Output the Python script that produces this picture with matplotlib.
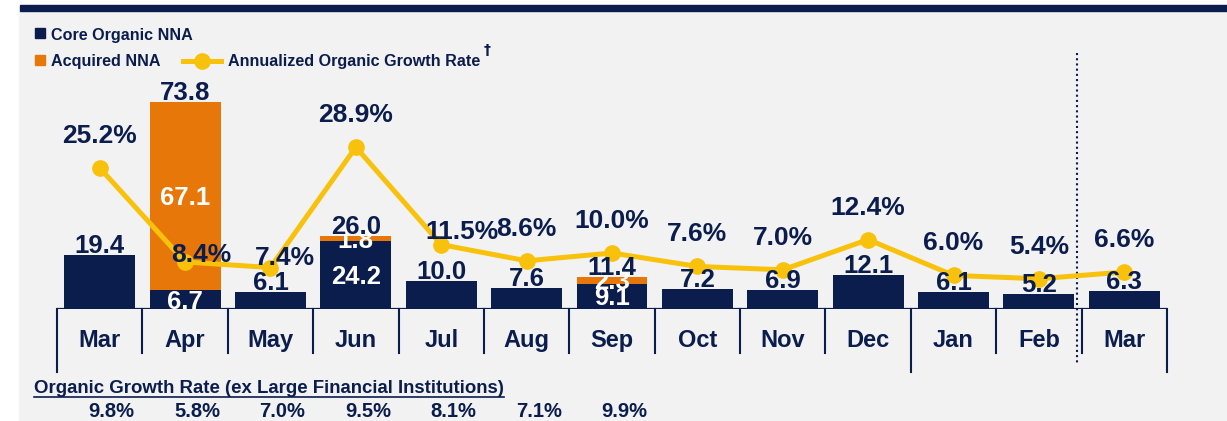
import numpy as np
import matplotlib
matplotlib.use('Agg')
import matplotlib.pyplot as plt
from matplotlib.patches import Rectangle
from matplotlib.lines import Line2D

# data
months = ['Mar', 'Apr', 'May', 'Jun', 'Jul', 'Aug', 'Sep', 'Oct', 'Nov', 'Dec', 'Jan', 'Feb', 'Mar']
core_nna = [19.4, 6.7, 6.1, 24.2, 10.0, 7.6, 9.1, 7.2, 6.9, 12.1, 6.1, 5.2, 6.3]
acquired_nna = [0, 67.1, 0, 1.8, 0, 0, 2.3, 0, 0, 0, 0, 0, 0]
growth_rate = [25.2, 8.4, 7.4, 28.9, 11.5, 8.6, 10.0, 7.6, 7.0, 12.4, 6.0, 5.4, 6.6]
ex_lfi_rate = [9.8, 5.8, 7.0, 9.5, 8.1, 7.1, 9.9]

# label nudges (pixels) for the growth-rate labels that dodge the line
pct_offsets = {1: (16, 0), 2: (14, 3), 4: (21, 6)}

NAVY = '#0b1d4d'
ORANGE = '#e8770a'
GOLD = '#f8c20c'
BG = '#f2f2f2'

W, H = 1227, 421
plt.rcParams['font.family'] = ['Liberation Sans', 'DejaVu Sans']
plt.rcParams['font.weight'] = 'bold'


def fx(x):
    return x / W


def fy(y):
    return 1 - y / H


fig = plt.figure(figsize=(W / 100, H / 100), dpi=100, facecolor='white')
fig.patches.append(Rectangle((fx(19), 0), 1 - fx(19), fy(11), transform=fig.transFigure,
                             color=BG, zorder=-10))
fig.patches.append(Rectangle((fx(20), fy(11)), 1 - fx(20), 6 / H, transform=fig.transFigure,
                             color=NAVY, zorder=-5))

ax = fig.add_axes([fx(57), fy(309), (1167 - 57) / W, (309 - 20) / H])
ax2 = ax.twinx()
for a in (ax, ax2):
    a.set_facecolor('none')
    for s in a.spines.values():
        s.set_visible(False)
    a.set_xticks([])
    a.set_yticks([])

x = np.arange(len(months))
core = np.array(core_nna)
acq = np.array(acquired_nna)
total = core + acq

ax.bar(x, core, width=0.83, color=NAVY, zorder=2)
ax.bar(x[acq > 0], acq[acq > 0], bottom=core[acq > 0], width=0.83, color=ORANGE, zorder=2)
ax.set_xlim(-0.5, len(months) - 0.5)
ax.set_ylim(0, 289 / 2.8)
ax2.set_ylim(0, 289 / 5.6)

ax.axhline(0, color=NAVY, lw=1.6, zorder=3)

# separators under the axis
xt = ax.get_xaxis_transform()
for i in range(len(months) + 1):
    depth = -63 / 289 if i in (0, 10, len(months)) else -44 / 289
    ax.plot([i - 0.5, i - 0.5], [0, depth], color=NAVY, lw=1.5, transform=xt, clip_on=False)
ax.plot([11.45, 11.45], [(309 - 53) / 289, -56 / 289], color=NAVY, lw=1.5,
        dashes=(1, 1.5), transform=xt, clip_on=False)

# growth rate line
ax2.plot(x, growth_rate, color=GOLD, lw=3.6, marker='o', ms=11, zorder=3)

# bar labels
lab = dict(fontsize=18.5, fontweight='bold', ha='center', va='baseline',
           textcoords='offset pixels', xycoords=ax.transData, zorder=5)
for i in range(len(months)):
    if acq[i] > 0:
        ax2.annotate(f'{core[i]:.1f}', xy=(i, core[i] / 2), xytext=(0, -9), color='white', **lab)
        ax2.annotate(f'{acq[i]:.1f}', xy=(i, core[i] + acq[i] / 2), xytext=(0, -9),
                     color='white', **lab)
    ax2.annotate(f'{total[i]:.1f}', xy=(i, total[i]), xytext=(0, 2), color=NAVY, **lab)

for i, v in enumerate(growth_rate):
    dx, dy = pct_offsets.get(i, (0, 25))
    ax2.annotate(f'{v:.1f}%', xy=(i, v), xytext=(dx, dy), textcoords='offset pixels',
                 ha='center', va='baseline', fontsize=19, color=NAVY, zorder=5)

for i, m in enumerate(months):
    ax2.annotate(m, xy=(i, 0), xycoords=ax.transData, xytext=(0, -38),
                 textcoords='offset pixels', ha='center', va='baseline',
                 fontsize=17, color=NAVY)

# ex LFI row
head = fig.text(fx(34), fy(393), 'Organic Growth Rate (ex Large Financial Institutions)',
                fontsize=13.4, color=NAVY, va='baseline', ha='left')
for i, v in enumerate(ex_lfi_rate):
    ax2.annotate(f'{v:.1f}%', xy=(i + 0.14, 0), xycoords=ax.transData, xytext=(0, -108),
                 textcoords='offset pixels', ha='center', va='baseline',
                 fontsize=14.5, color=NAVY)

# legend
fig.patches.append(Rectangle((fx(35), fy(38)), 10 / W, 10 / H, transform=fig.transFigure,
                             color=NAVY))
fig.patches.append(Rectangle((fx(35), fy(65)), 10 / W, 10 / H, transform=fig.transFigure,
                             color=ORANGE))
fig.text(fx(51), fy(40), 'Core Organic NNA', fontsize=11.6, color=NAVY, va='baseline')
fig.text(fx(51), fy(66), 'Acquired NNA', fontsize=11.6, color=NAVY, va='baseline')
fig.add_artist(Line2D([fx(183), fx(221)], [fy(61), fy(61)], color=GOLD, lw=3.6,
                      transform=fig.transFigure))
fig.add_artist(Line2D([fx(202)], [fy(61)], color=GOLD, marker='o', ms=11,
                      transform=fig.transFigure))
gl = fig.text(fx(228), fy(66), 'Annualized Organic Growth Rate', fontsize=11.6,
              color=NAVY, va='baseline')

r = fig.canvas.get_renderer()
bb = gl.get_window_extent(renderer=r)
fig.text((bb.x1 + 3) / W, fy(54), '\u2020', fontsize=10, color=NAVY, va='baseline',
         family=['DejaVu Sans'])
hb = head.get_window_extent(renderer=r)
fig.add_artist(Line2D([hb.x0 / W, hb.x1 / W], [fy(396.5), fy(396.5)], color=NAVY, lw=1.2,
                      transform=fig.transFigure))

fig.savefig('out.png', dpi=100, facecolor=fig.get_facecolor())
